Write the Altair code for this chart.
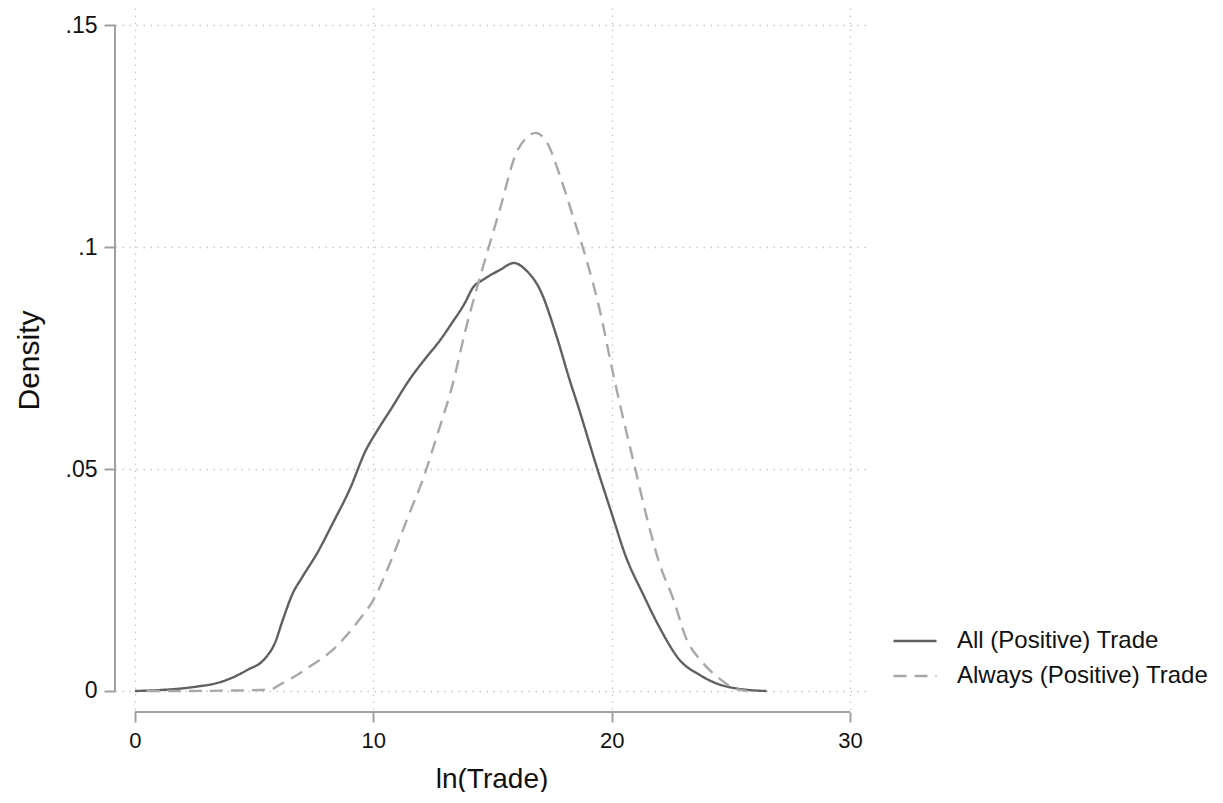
import altair as alt
import pandas as pd

# ---- data ----
all_x = [0, 1.0, 2.0, 2.6, 3.3, 3.85, 4.7, 5.45, 5.87, 6.2, 6.62, 7.0, 7.67,
         8.3, 9.0, 9.73, 10.0, 10.8, 11.5, 12.2, 12.8, 13.3, 13.8, 14.2, 14.6,
         15.3, 15.9, 16.4, 17.0, 17.7, 18.24, 18.6, 19.37, 20.0, 20.6, 21.3,
         22.0, 22.85, 23.7, 24.4, 25.1, 25.8, 26.5]
all_y = [0, 0.0002, 0.0006, 0.001, 0.0016, 0.0025, 0.0047, 0.0073,
         0.0108, 0.016, 0.022, 0.0255, 0.0313, 0.0378, 0.0453, 0.0547, 0.0572,
         0.064, 0.070, 0.075, 0.079, 0.0829, 0.087, 0.091, 0.0926, 0.0948,
         0.0964, 0.0948, 0.0903, 0.0797, 0.070, 0.064, 0.0505, 0.040, 0.0302,
         0.022, 0.0144, 0.007, 0.0036, 0.0017, 0.0007, 0.0002, 0]

alw_x = [0.5, 2, 4, 5.0, 5.7, 6.2, 6.8, 7.3, 8.2, 9.4, 10.0, 10.7, 11.4, 12.1,
         12.7, 13.3, 13.9, 14.6, 15.3, 16.0, 16.4, 16.8, 17.3, 17.8, 18.4,
         18.95, 19.5, 20.0, 20.5, 21.0, 21.5, 22.0, 22.6, 23.1, 23.8, 24.5,
         25.1, 25.7]
alw_y = [0, 0, 0.0001, 0.0002, 0.0004, 0.0018, 0.0036, 0.0054, 0.0088, 0.016,
         0.0205, 0.0288, 0.0385, 0.048, 0.058, 0.0685, 0.082, 0.0955, 0.1083,
         0.1212, 0.1245, 0.1257, 0.1234, 0.1165, 0.1065, 0.097, 0.0858, 0.073,
         0.061, 0.0498, 0.0385, 0.0288, 0.0205, 0.0122, 0.0065, 0.0029, 0.0007, 0]

series_names = ["All (Positive) Trade", "Always (Positive) Trade"]
x_ticks = [0, 10, 20, 30]
y_ticks = [0, 0.05, 0.1, 0.15]

df = pd.concat([
    pd.DataFrame({"x": all_x, "y": all_y, "series": series_names[0], "o": range(len(all_x))}),
    pd.DataFrame({"x": alw_x, "y": alw_y, "series": series_names[1], "o": range(len(alw_x))}),
])

XDOM = [-0.839, 30.755]
YDOM = [-0.00473, 0.15383]
FONT = "Liberation Sans"
AXIS_COLOR = "#a0a0a0"
GRID_COLOR = "#c8c8c8"

xscale = alt.Scale(domain=XDOM, nice=False, zero=False)
yscale = alt.Scale(domain=YDOM, nice=False, zero=False)

label_expr = "datum.value == 0 ? '0' : datum.value == 0.05 ? '.05' : datum.value == 0.1 ? '.1' : '.15'"

legend_cfg = dict(title=None, orient="none", legendX=777, legendY=610,
                  symbolType="stroke", symbolSize=1849, symbolStrokeWidth=2.4,
                  labelFontSize=24, labelFont=FONT, labelColor="#111",
                  labelOffset=19, rowPadding=-7, labelLimit=500)

lines = alt.Chart(df).mark_line(strokeWidth=2.4, interpolate="monotone").encode(
    x=alt.X("x:Q", scale=xscale,
            axis=alt.Axis(values=x_ticks, title="ln(Trade)", domain=False,
                          grid=True, gridColor=GRID_COLOR, gridDash=[1.5, 5.5], gridWidth=1.3,
                          tickColor=AXIS_COLOR, tickWidth=2, tickSize=10,
                          labelFontSize=22, labelPadding=8, labelColor="#111",
                          titleFontSize=28, titleFontWeight="normal", titlePadding=14,
                          titleColor="#111", labelFont=FONT, titleFont=FONT)),
    y=alt.Y("y:Q", scale=yscale,
            axis=alt.Axis(values=y_ticks, labelExpr=label_expr, title="Density",
                          domain=False, grid=True, gridColor=GRID_COLOR,
                          gridDash=[1.5, 5.5], gridWidth=1.3,
                          tickColor=AXIS_COLOR, tickWidth=2, tickSize=11,
                          labelFontSize=23, labelPadding=7, labelColor="#111",
                          titleFontSize=30, titleFontWeight="normal", titlePadding=21,
                          titleColor="#111", labelFont=FONT, titleFont=FONT)),
    color=alt.Color("series:N", scale=alt.Scale(domain=series_names, range=["#606060", "#a8a8a8"]),
                    legend=alt.Legend(**legend_cfg)),
    strokeDash=alt.StrokeDash("series:N", scale=alt.Scale(domain=series_names, range=[[1, 0], [13, 8]]),
                              legend=alt.Legend(**legend_cfg)),
    order="o:Q",
)

xaxis_df = pd.DataFrame({"x": [min(x_ticks)], "x2": [max(x_ticks)], "y": [YDOM[0]]})
yaxis_df = pd.DataFrame({"y": [min(y_ticks)], "y2": [max(y_ticks)], "x": [XDOM[0]]})

xline = alt.Chart(xaxis_df).mark_rule(color=AXIS_COLOR, strokeWidth=2).encode(
    x=alt.X("x:Q", scale=xscale), x2="x2:Q", y=alt.Y("y:Q", scale=yscale))
yline = alt.Chart(yaxis_df).mark_rule(color=AXIS_COLOR, strokeWidth=2).encode(
    y=alt.Y("y:Q", scale=yscale), y2="y2:Q", x=alt.X("x:Q", scale=xscale))

chart = alt.layer(lines, xline, yline).properties(
    width=753, height=704,
    background="white",
    autosize=alt.AutoSizeParams(type="none"),
    padding={"left": 107, "top": 0, "right": 340, "bottom": 80},
).configure_view(stroke=None)

chart.save("out.html", embed_options={"renderer": "svg", "actions": False})
